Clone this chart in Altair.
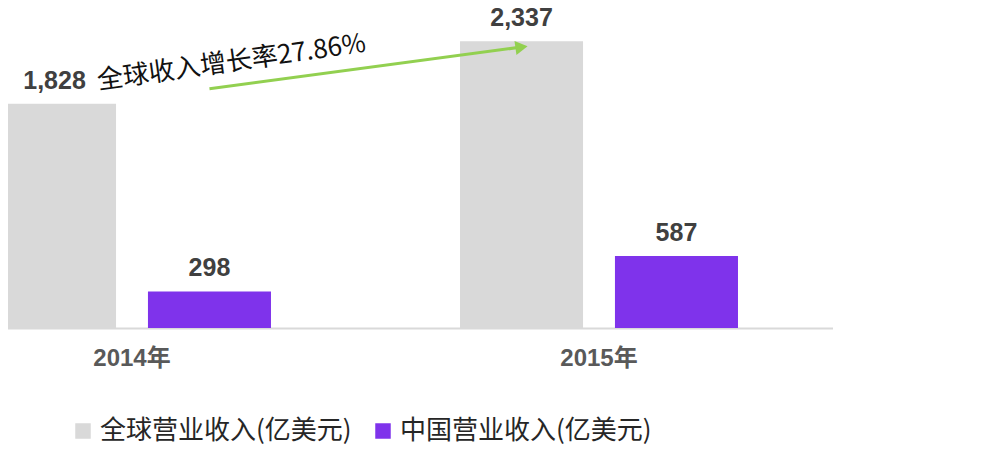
import altair as alt
import pandas as pd

# ---- data ----
years = ["2014年", "2015年"]
series_names = ["全球营业收入(亿美元)", "中国营业收入(亿美元)"]
global_rev = [1828, 2337]
china_rev = [298, 587]
growth_label = "全球收入增长率27.86%"

rows = []
for i, yr in enumerate(years):
    rows.append({"year": yr, "series": series_names[0], "value": global_rev[i]})
    rows.append({"year": yr, "series": series_names[1], "value": china_rev[i]})
df = pd.DataFrame(rows)

# arrow annotation (data coordinates), from 2014 towards the 2015 global bar
arrow_df = pd.DataFrame({
    "year": [years[0], years[1]],
    "series": [series_names[1], series_names[0]],
    "value": [1950, 2290],
    "label": [growth_label, ""],
})

xscale = alt.Scale(domain=years, range=[-109.5, 824.5], paddingInner=0, paddingOuter=0)
offscale = alt.Scale(domain=series_names, paddingInner=0.206, paddingOuter=0.61)
yscale = alt.Scale(domain=[0, 2478])
cscale = alt.Scale(domain=series_names, range=["#d9d9d9", "#7f33eb"])

xaxis = alt.Axis(title=None, ticks=False, labelFontSize=24, labelFontWeight="bold",
                 labelColor="#595959", labelPadding=18, domainColor="#d9d9d9",
                 domainWidth=2, labelAngle=0, grid=False,
                 labelFont="Liberation Sans, Noto Sans CJK SC")

yenc = alt.Y("value:Q", scale=yscale, axis=None)
xenc = alt.X("year:N", scale=xscale, sort=years, axis=xaxis)
xoff = alt.XOffset("series:N", scale=offscale, sort=series_names)

base = alt.Chart(df).encode(x=xenc, xOffset=xoff, y=yenc)

bars = base.mark_bar().encode(
    color=alt.Color("series:N", scale=cscale, sort=series_names,
                    legend=alt.Legend(title=None, orient="none", legendX=62, legendY=394,
                                      direction="horizontal", symbolType="square",
                                      symbolSize=240, symbolStrokeWidth=0,
                                      labelFontSize=26, labelColor="#262626",
                                      labelFont="Noto Sans CJK SC", columnPadding=18,
                                      labelLimit=400))
)

labels = base.mark_text(dy=-10, baseline="bottom", fontSize=25, fontWeight="bold",
                        color="#404040", font="Liberation Sans").encode(
    text=alt.Text("value:Q", format=",")
)

arrow_base = alt.Chart(arrow_df).encode(x=xenc, xOffset=xoff, y=yenc)

arrow = arrow_base.mark_line(color="#92d050", strokeWidth=3)
head = arrow_base.transform_filter(alt.datum.label == "").mark_point(
    shape="triangle-right", angle=352, size=200, filled=True, color="#92d050", opacity=1
)
ann = arrow_base.transform_filter(alt.datum.label != "").mark_text(
    align="left", baseline="bottom", dx=-110, dy=-10, angle=352, fontSize=26,
    font="Noto Sans CJK SC", color="#111111"
).encode(text="label:N")

chart = alt.layer(bars, labels, arrow, head, ann).properties(
    width=980, height=304,
    autosize=alt.AutoSizeParams(type="none"),
    padding={"left": 0, "top": 16, "right": 0, "bottom": 128},
).configure_view(stroke=None)

chart.save("out.html", embed_options={"renderer": "svg", "actions": False})
